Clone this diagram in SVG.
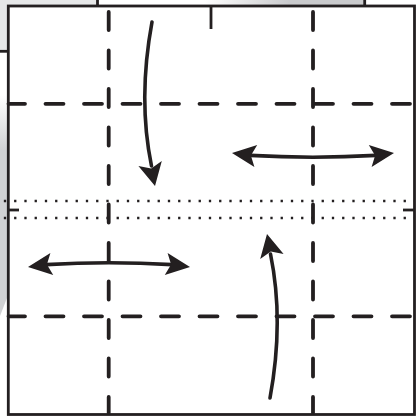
<svg xmlns="http://www.w3.org/2000/svg" width="418" height="417" viewBox="0 0 418 417">
  <defs>
    <style>
      .ink{stroke:#231f20;fill:none}
      .edge{stroke:#231f20;stroke-width:2.8;fill:none}
      .dash{stroke:#231f20;stroke-width:3.8;stroke-linecap:round;stroke-dasharray:18 20.5;fill:none}
      .dot{stroke:#231f20;stroke-width:2.3;stroke-dasharray:2.3 7.95;fill:none}
      .shaft{stroke:#231f20;stroke-width:3.6;stroke-linecap:round;fill:none}
      .head{fill:#231f20;stroke:none}
    </style>
    <linearGradient id="gTop" x1="0" y1="0" x2="1" y2="0">
      <stop offset="0" stop-color="#ffffff"/>
      <stop offset="0.4" stop-color="#ffffff"/>
      <stop offset="0.72" stop-color="#c9cacc"/>
      <stop offset="1" stop-color="#c9cacc"/>
    </linearGradient>
    <linearGradient id="gLeft" x1="0" y1="0" x2="0" y2="1">
      <stop offset="0" stop-color="#ffffff"/>
      <stop offset="0.25" stop-color="#d0d1d3"/>
      <stop offset="1" stop-color="#d0d1d3"/>
    </linearGradient>
  </defs>

  <g id="background-sheet">
    <rect x="0" y="0" width="97.5" height="6" fill="#e6e7e8"/>
    <rect x="0" y="0" width="7" height="51.3" fill="#e6e7e8"/>
    <rect x="97.5" y="0" width="267" height="6" fill="url(#gTop)"/>
    <polygon points="0,95 7,95 7,298 0,316" fill="url(#gLeft)"/>
    <line class="edge" x1="97.5" y1="0" x2="97.5" y2="6"/>
    <line class="edge" x1="364.7" y1="0" x2="364.7" y2="6"/>
    <line class="edge" x1="0" y1="51.3" x2="8" y2="51.3"/>
  </g>

  <g id="paper">
    <rect class="edge" x="8.3" y="6" width="406.2" height="408.5" fill="#ffffff"/>
    <line class="edge" x1="211" y1="6" x2="211" y2="29"/>
    <line class="edge" x1="8" y1="210" x2="19" y2="210"/>
    <line class="edge" x1="403" y1="210" x2="414" y2="210"/>
  </g>

  <g id="fold-lines">
    <line class="dash" x1="108.7" y1="12" x2="108.7" y2="413"/>
    <line class="dash" x1="313" y1="12" x2="313" y2="413"/>
    <line class="dash" x1="8.5" y1="103.8" x2="412" y2="103.8" stroke-dashoffset="1.5"/>
    <line class="dash" x1="8.5" y1="316.3" x2="412" y2="316.3" stroke-dashoffset="1.5"/>
    <line class="dot" x1="3.85" y1="201" x2="414" y2="201"/>
    <line class="dot" x1="3.85" y1="218" x2="414" y2="218"/>
  </g>

  <g id="connectors">
    <g id="arrow-down">
      <path class="shaft" d="M152,22 C145,60 140,110 151.5,166"/>
      <path class="head" d="M155,186 L138.4,166.1 L151.2,168.4 L161.8,160.9 Z"/>
    </g>
    <g id="arrow-horizontal-top">
      <path class="shaft" d="M250,155.4 Q313,159 376,155.4"/>
      <path class="head" d="M232,153 L257.2,145.1 L250.9,155.4 L254.4,166.9 Z"/>
      <path class="head" d="M394,153 L368.8,145.1 L375.1,155.4 L371.6,166.9 Z"/>
    </g>
    <g id="arrow-up" transform="rotate(180 211 210)">
      <path class="shaft" d="M152,22 C145,60 140,110 151.5,166"/>
      <path class="head" d="M155,186 L138.4,166.1 L151.2,168.4 L161.8,160.9 Z"/>
    </g>
    <g id="arrow-horizontal-bottom" transform="rotate(180 211 210)">
      <path class="shaft" d="M250,155.4 Q313,159 376,155.4"/>
      <path class="head" d="M232,153 L257.2,145.1 L250.9,155.4 L254.4,166.9 Z"/>
      <path class="head" d="M394,153 L368.8,145.1 L375.1,155.4 L371.6,166.9 Z"/>
    </g>
  </g>
</svg>
